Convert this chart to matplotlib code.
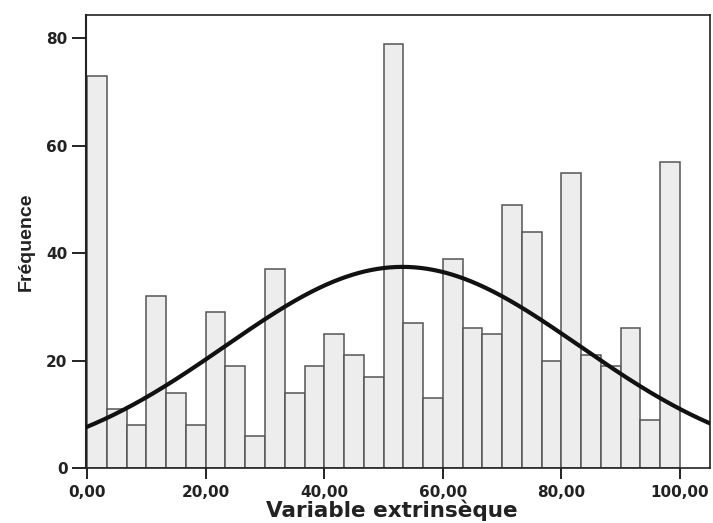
import numpy as np
import matplotlib
matplotlib.use("Agg")
import matplotlib.pyplot as plt

# Histogram data (30 bins of width 100/30 from 0 to 100)
bin_edges_start = 0.0
bin_edges_stop = 100.0
counts = [73, 11, 8, 32, 14, 8, 29, 19, 6, 37,
          14, 19, 25, 21, 17, 79, 27, 13, 39, 26,
          25, 49, 44, 20, 55, 21, 19, 26, 9, 57]
# Normal curve summary statistics
curve_mean = 53.2
curve_sd = 29.9
x_ticks = [0, 20, 40, 60, 80, 100]
x_tick_labels = ["0,00", "20,00", "40,00", "60,00", "80,00", "100,00"]
y_ticks = [0, 20, 40, 60, 80]
y_tick_labels = ["0", "20", "40", "60", "80"]
x_label = "Variable extrinsèque"
y_label = "Fréquence"

plt.rcParams['font.family'] = ['DejaVu Sans']

fig = plt.figure(figsize=(7.13, 5.23), dpi=100)
ax = fig.add_axes([0.121, 0.105, 0.875, 0.866])

n = len(counts)
edges = np.linspace(bin_edges_start, bin_edges_stop, n + 1)
width = edges[1] - edges[0]
ax.bar(edges[:-1], counts, width=width, align='edge',
       color='#ededed', edgecolor='#555555', linewidth=1.1, zorder=2)

total = sum(counts)
xs = np.linspace(-0.2, 105.2, 400)
ys = total * width / (curve_sd * np.sqrt(2 * np.pi)) * np.exp(-0.5 * ((xs - curve_mean) / curve_sd) ** 2)
ax.plot(xs, ys, color='#111111', linewidth=3.0, zorder=3, solid_capstyle='round')

ax.set_xlim(-0.15, 105.1)
ax.set_ylim(0, 84.3)

ax.set_xticks(x_ticks)
ax.set_xticklabels(x_tick_labels, fontsize=11, fontweight='bold', color='#222222')
ax.set_yticks(y_ticks)
ax.set_yticklabels(y_tick_labels, fontsize=11, fontweight='bold', color='#222222')
ax.tick_params(axis='x', direction='out', length=8, width=1.4, colors='#222222', pad=4.5)
ax.tick_params(axis='y', direction='out', length=10, width=1.4, colors='#222222', pad=3.5)

for side in ['top', 'right', 'bottom']:
    ax.spines[side].set_color('#222222')
    ax.spines[side].set_linewidth(1.2)
ax.spines['left'].set_color('#222222')
ax.spines['left'].set_linewidth(1.5)

ax.set_xlabel(x_label, fontsize=15.5, fontweight='bold', color='#222222')
ax.xaxis.set_label_coords(0.489, -0.108)
ax.xaxis.label.set_verticalalignment('baseline')

ax.set_ylabel(y_label, fontsize=14, fontweight='bold', color='#222222',
              family=['Liberation Sans Narrow', 'Liberation Sans', 'DejaVu Sans'])
ax.yaxis.set_label_coords(-0.082, 0.5)

fig.savefig("out.png", dpi=100, facecolor='white')
